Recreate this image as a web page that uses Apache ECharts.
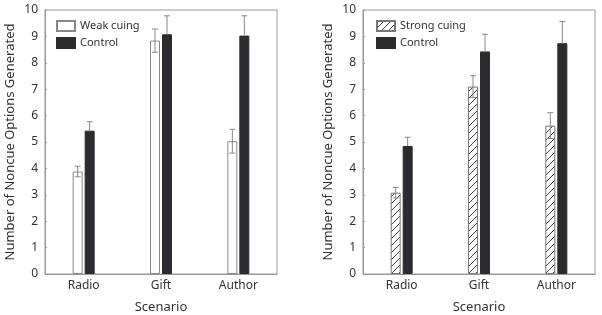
<!DOCTYPE html>
<html lang="en">
<head>
    <meta charset="UTF-8">
    <title>Noncue options</title>
    <script src="https://cdn.jsdelivr.net/npm/echarts@6/dist/echarts.min.js"></script>
    <style>
        * { margin: 0; padding: 0; }
        body { background: #fff; }
        #box { width: 602px; height: 315px; }
    </style>
</head>
<body>
    <div id="box"></div>
    <script>
        // data
        var categories = ['Radio', 'Gift', 'Author'];
        var yTicks = [0, 1, 2, 3, 4, 5, 6, 7, 8, 9, 10];

        var weakMeans = [3.88, 8.84, 5.03];
        var weakErr = [0.2, 0.44, 0.45];
        var controlLeftMeans = [5.43, 9.08, 9.03];
        var controlLeftErr = [0.34, 0.7, 0.75];

        var strongMeans = [3.08, 7.1, 5.62];
        var strongErr = [0.2, 0.41, 0.49];
        var controlRightMeans = [4.85, 8.43, 8.74];
        var controlRightErr = [0.33, 0.65, 0.82];

        var BAR_W = 10;
        var OFFSET = 6;   // half of barWidth + half gap
        var textColor = '#333';
        var lineColor = '#999';
        var fontFamily = 'Noto Sans';

        // hatch pattern for strong cuing
        var hatch = document.createElement('canvas');
        hatch.width = 7; hatch.height = 7;
        var ctx = hatch.getContext('2d');
        ctx.fillStyle = '#fff';
        ctx.fillRect(0, 0, 7, 7);
        ctx.strokeStyle = '#444';
        ctx.lineWidth = 1;
        ctx.beginPath();
        ctx.moveTo(-1, 8); ctx.lineTo(8, -1);
        ctx.moveTo(-1, 1); ctx.lineTo(1, -1);
        ctx.moveTo(6, 8); ctx.lineTo(8, 6);
        ctx.stroke();

        // full: draw lower half too (it disappears on the black bars anyway)
        function errorSeries(name, idx, means, errs, side, full) {
            return {
                type: 'custom',
                name: name,
                xAxisIndex: idx,
                yAxisIndex: idx,
                z: 10,
                silent: true,
                data: means.map(function (m, i) { return [i, m, m - errs[i], m + errs[i]]; }),
                renderItem: function (params, api) {
                    var mid = api.coord([api.value(0), api.value(1)]);
                    var lo = api.coord([api.value(0), api.value(2)]);
                    var hi = api.coord([api.value(0), api.value(3)]);
                    var x = mid[0] + side * OFFSET;
                    var c = 3;
                    var st = { stroke: '#888', lineWidth: 1 };
                    var kids = [
                        { type: 'line', shape: { x1: x, y1: full ? lo[1] : mid[1], x2: x, y2: hi[1] }, style: st },
                        { type: 'line', shape: { x1: x - c, y1: hi[1], x2: x + c, y2: hi[1] }, style: st }
                    ];
                    if (full) {
                        kids.push({ type: 'line', shape: { x1: x - c, y1: lo[1], x2: x + c, y2: lo[1] }, style: st });
                    }
                    return { type: 'group', children: kids };
                }
            };
        }

        function xAxisFor(idx) {
            return {
                type: 'category',
                gridIndex: idx,
                data: categories,
                name: 'Scenario',
                nameLocation: 'middle',
                nameGap: 27,
                nameTextStyle: { fontSize: 13, color: textColor, fontFamily: fontFamily },
                axisLine: { lineStyle: { color: lineColor } },
                axisTick: { show: false },
                axisLabel: { fontSize: 12, color: textColor, fontFamily: fontFamily, margin: 6 }
            };
        }

        function yAxisFor(idx) {
            return {
                type: 'value',
                gridIndex: idx,
                min: yTicks[0],
                max: yTicks[yTicks.length - 1],
                interval: 1,
                name: 'Number of Noncue Options Generated',
                nameLocation: 'middle',
                nameGap: 28,
                nameTextStyle: { fontSize: 13, color: textColor, fontFamily: fontFamily },
                axisLine: { show: true, lineStyle: { color: lineColor } },
                axisTick: { show: true, inside: true, length: 2, lineStyle: { color: lineColor } },
                splitLine: { show: false },
                axisLabel: { fontSize: 12, color: textColor, fontFamily: fontFamily, margin: 7 }
            };
        }

        var option = {
            animation: false,
            grid: [
                { left: 45, right: 325, top: 10, bottom: 41, show: true, borderColor: lineColor, borderWidth: 1, outerBoundsMode: 'none' },
                { left: 363, right: 7, top: 10, bottom: 41, show: true, borderColor: lineColor, borderWidth: 1, outerBoundsMode: 'none' }
            ],
            legend: [
                {
                    left: 56, top: 20, padding: 0, orient: 'vertical', itemGap: 5,
                    itemWidth: 18, itemHeight: 10, icon: 'rect',
                    textStyle: { fontSize: 11, color: textColor, fontFamily: fontFamily },
                    data: ['Weak cuing', 'Control ']
                },
                {
                    left: 376, top: 20, padding: 0, orient: 'vertical', itemGap: 5,
                    itemWidth: 18, itemHeight: 10, icon: 'rect',
                    textStyle: { fontSize: 11, color: textColor, fontFamily: fontFamily },
                    data: ['Strong cuing', 'Control']
                }
            ],
            xAxis: [xAxisFor(0), xAxisFor(1)],
            yAxis: [yAxisFor(0), yAxisFor(1)],
            series: [
                {
                    name: 'Weak cuing', type: 'bar', xAxisIndex: 0, yAxisIndex: 0,
                    barWidth: BAR_W, barGap: '20%', data: weakMeans,
                    itemStyle: { color: '#fff', borderColor: '#888', borderWidth: 1 }
                },
                {
                    name: 'Control ', type: 'bar', xAxisIndex: 0, yAxisIndex: 0,
                    barWidth: BAR_W, barGap: '20%', data: controlLeftMeans,
                    itemStyle: { color: '#2b2b30', borderColor: '#2b2b30', borderWidth: 1 }
                },
                {
                    name: 'Strong cuing', type: 'bar', xAxisIndex: 1, yAxisIndex: 1,
                    barWidth: BAR_W, barGap: '20%', data: strongMeans,
                    itemStyle: { color: { image: hatch, repeat: 'repeat' }, borderColor: '#777', borderWidth: 1 }
                },
                {
                    name: 'Control', type: 'bar', xAxisIndex: 1, yAxisIndex: 1,
                    barWidth: BAR_W, barGap: '20%', data: controlRightMeans,
                    itemStyle: { color: '#2b2b30', borderColor: '#2b2b30', borderWidth: 1 }
                },
                errorSeries('weakErr', 0, weakMeans, weakErr, -1, true),
                errorSeries('controlLeftErr', 0, controlLeftMeans, controlLeftErr, 1, false),
                errorSeries('strongErr', 1, strongMeans, strongErr, -1, true),
                errorSeries('controlRightErr', 1, controlRightMeans, controlRightErr, 1, false)
            ]
        };
        echarts.init(document.querySelector('#box')).setOption(option);
    </script>
</body>
</html>
